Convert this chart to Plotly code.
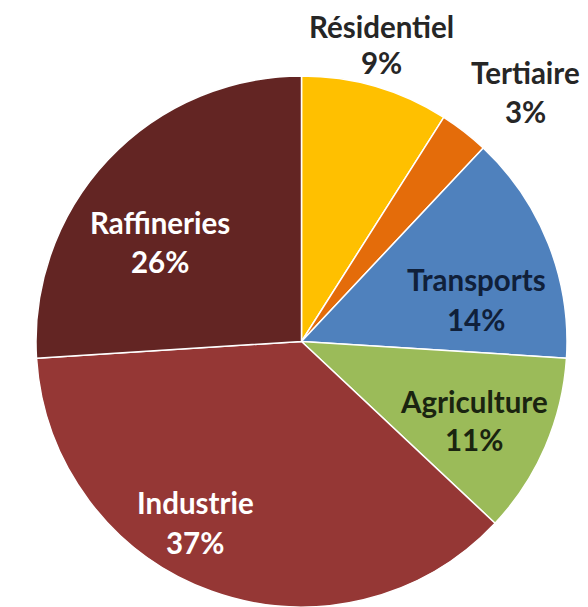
import plotly.graph_objects as go

# ---- data ----
labels = ["Résidentiel", "Tertiaire", "Transports", "Agriculture", "Industrie", "Raffineries"]
values = [9, 3, 14, 11, 37, 26]

# ---- style ----
colors = ["#FFC000", "#E46C0A", "#4F81BD", "#9BBB59", "#953735", "#632523"]
text_colors = ["#262626", "#262626", "#10203A", "#1A2410", "#FFFFFF", "#FFFFFF"]
# label anchor positions in page pixels (x, y of name line centre, y of percent line centre)
label_px = [(381, 26.5, 62.5), (525, 72.5, 111.5), (476, 279.5, 319.5),
            (474, 401.5, 439.5), (195, 502.5, 542.5), (160, 222.5, 261.5)]
BODY = 8  # default page body margin

W, H = 580, 599
ML, MR, MT, MB = 28, 21, 68, 0
PW, PH = W - ML - MR, H - MT - MB

fig = go.Figure(go.Pie(
    labels=labels,
    values=values,
    sort=False,
    direction="clockwise",
    rotation=0,
    marker=dict(colors=colors, line=dict(color="white", width=1.5)),
    textinfo="none",
    showlegend=False,
    hoverinfo="label+percent",
))

total = sum(values)
annotations = []
for lab, val, col, (px, py1, py2) in zip(labels, values, text_colors, label_px):
    pct = f"{round(100 * val / total)}%"
    for txt, py in ((lab, py1), (pct, py2)):
        annotations.append(dict(
            text=txt,
            x=(px - BODY - ML) / PW, y=1 - (py - BODY - MT) / PH,
            xref="paper", yref="paper",
            xanchor="center", yanchor="middle",
            showarrow=False,
            font=dict(family="Lato", size=29.5, color=col, weight="bold"),
        ))

fig.update_layout(
    width=W,
    height=H,
    margin=dict(t=MT, b=MB, l=ML, r=MR),
    paper_bgcolor="white",
    plot_bgcolor="white",
    annotations=annotations,
)

fig.write_html("out.html")
